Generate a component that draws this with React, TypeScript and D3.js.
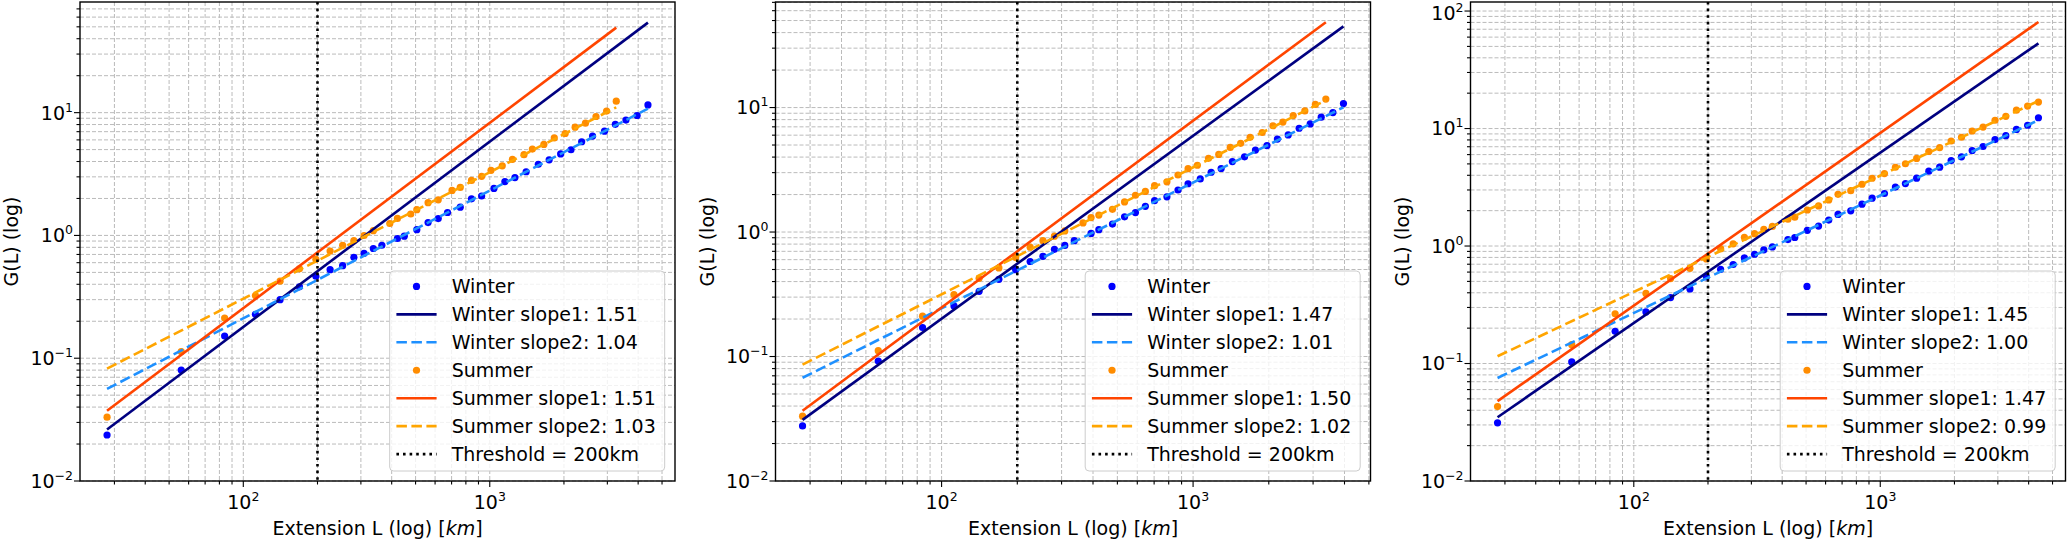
import React from 'react';
import * as d3 from 'd3';

const FONT = '"DejaVu Sans", Verdana, sans-serif';
const FS = 19;
const TOP = 2;
const BOTTOM = 481;
const PW = 595;
const PANEL_LEFT = [80, 775.5, 1470.5];

// extension L [km] of the bins
const extWinterA = [28, 56, 84, 112, 141, 169, 197, 225, 253, 281, 309, 337, 365, 422, 450, 506, 562, 618, 674, 759, 843, 927, 1040, 1152, 1265, 1405, 1574, 1742, 1939, 2136, 2360, 2613, 2922, 3232, 3569, 3962, 4384];
const extSummerA = [28, 56, 84, 112, 141, 169, 197, 225, 253, 281, 309, 337, 393, 422, 478, 506, 562, 618, 703, 759, 843, 927, 1012, 1124, 1236, 1377, 1489, 1658, 1827, 2023, 2220, 2445, 2698, 2979, 3260];
const extWinterB = [28, 56, 84, 112, 141, 169, 197, 225, 253, 281, 309, 337, 393, 422, 478, 534, 590, 646, 703, 787, 871, 955, 1068, 1180, 1293, 1433, 1602, 1770, 1967, 2164, 2389, 2641, 2922, 3232, 3597, 3962];
const extSummerB = [28, 56, 84, 112, 141, 169, 197, 225, 253, 281, 309, 365, 393, 422, 478, 534, 590, 646, 703, 787, 871, 955, 1040, 1152, 1265, 1405, 1546, 1686, 1883, 2079, 2276, 2501, 2782, 3063, 3372];

// G(L) values, one list per panel and season
const gWinterA = [0.0237, 0.0800, 0.1514, 0.2279, 0.2999, 0.3817, 0.4651, 0.526, 0.5675, 0.6637, 0.716, 0.783, 0.832, 0.944, 0.986, 1.115, 1.273, 1.373, 1.538, 1.699, 1.986, 2.094, 2.413, 2.748, 2.958, 3.301, 3.800, 4.128, 4.613, 4.986, 5.794, 6.441, 7.069, 8.032, 8.701, 9.480, 11.55];
const gSummerA = [0.0331, 0.1133, 0.2126, 0.3237, 0.4241, 0.5346, 0.6384, 0.7454, 0.831, 0.906, 0.999, 1.093, 1.251, 1.375, 1.494, 1.622, 1.849, 1.948, 2.327, 2.462, 2.808, 3.027, 3.388, 3.691, 4.167, 4.549, 5.047, 5.508, 6.226, 6.761, 7.612, 8.214, 9.304, 10.30, 12.40];
const gWinterB = [0.0277, 0.0920, 0.171, 0.255, 0.3337, 0.4173, 0.4982, 0.5797, 0.6377, 0.7261, 0.781, 0.853, 0.974, 1.044, 1.158, 1.326, 1.434, 1.608, 1.790, 1.918, 2.175, 2.442, 2.671, 3.023, 3.238, 3.679, 4.022, 4.553, 4.950, 5.578, 6.022, 6.821, 7.382, 8.362, 9.106, 10.76];
const gSummerB = [0.0332, 0.1115, 0.2110, 0.3150, 0.4250, 0.5150, 0.6240, 0.7555, 0.852, 0.927, 1.021, 1.184, 1.306, 1.369, 1.521, 1.744, 1.975, 2.118, 2.359, 2.530, 2.872, 3.229, 3.440, 3.908, 4.200, 4.786, 5.155, 5.765, 6.305, 7.139, 7.649, 8.617, 9.387, 10.60, 11.70];
const gWinterC = [0.0313, 0.1032, 0.1880, 0.2748, 0.3640, 0.4315, 0.5465, 0.6333, 0.6963, 0.7916, 0.851, 0.9286, 0.983, 1.134, 1.182, 1.361, 1.478, 1.663, 1.857, 1.995, 2.269, 2.554, 2.798, 3.172, 3.402, 3.780, 4.334, 4.688, 5.339, 5.746, 6.501, 7.033, 8.047, 8.695, 9.827, 10.66, 12.35];
const gSummerC = [0.043, 0.1446, 0.2652, 0.3951, 0.5279, 0.6465, 0.7754, 0.950, 1.043, 1.185, 1.273, 1.387, 1.467, 1.691, 1.761, 2.025, 2.196, 2.470, 2.754, 2.957, 3.357, 3.776, 4.133, 4.682, 5.016, 5.568, 6.375, 6.889, 7.836, 8.427, 9.524, 10.29, 11.76, 12.70, 14.34, 15.54, 16.79];

// power-law fits: slope and log10 G at L = 1 km, per panel
const winterSlope1 = [1.51, 1.47, 1.45];
const winterSlope2 = [1.04, 1.01, 1.00];
const summerSlope1 = [1.51, 1.50, 1.47];
const summerSlope2 = [1.03, 1.02, 0.99];
const winterIcpt1 = [-3.766, -3.6366, -3.5556];
const winterIcpt2 = [-2.755, -2.6322, -2.5701];
const summerIcpt1 = [-3.6125, -3.6061, -3.4471];
const summerIcpt2 = [-2.5752, -2.5407, -2.3705];
const threshold = 200;

const panelData = [
  { wx: extWinterA, wg: gWinterA, sx: extSummerA, sg: gSummerA },
  { wx: extWinterB, wg: gWinterB, sx: extSummerB, sg: gSummerB },
  { wx: extWinterA, wg: gWinterC, sx: extWinterA, sg: gSummerC },
];

const isMajor = (t: number) => Math.abs(Math.log10(t) - Math.round(Math.log10(t))) < 1e-6;

const Pow10 = ({ e, ...rest }: any) => (
  <text fontFamily={FONT} fontSize={FS} fill="#000" {...rest}>
    <tspan>10</tspan>
    <tspan dy={-8} fontSize={12.5}>{e < 0 ? `\u2212${-e}` : `${e}`}</tspan>
  </text>
);

const Panel: React.FC<{ i: number }> = ({ i }) => {
  const left = PANEL_LEFT[i];
  const right = left + PW;
  const { wx, wg, sx, sg } = panelData[i];

  const fits = [
    { s: winterSlope1[i], b: winterIcpt1[i], L: wx, color: '#000080', dash: undefined, label: `Winter slope1: ${winterSlope1[i].toFixed(2)}` },
    { s: winterSlope2[i], b: winterIcpt2[i], L: wx, color: '#1e90ff', dash: '10.5,4.5', label: `Winter slope2: ${winterSlope2[i].toFixed(2)}` },
    { s: summerSlope1[i], b: summerIcpt1[i], L: sx, color: '#ff4500', dash: undefined, label: `Summer slope1: ${summerSlope1[i].toFixed(2)}` },
    { s: summerSlope2[i], b: summerIcpt2[i], L: sx, color: '#ffa500', dash: '10.5,4.5', label: `Summer slope2: ${summerSlope2[i].toFixed(2)}` },
  ];
  const fitG = (f: any, L: number) => Math.pow(10, f.b + f.s * Math.log10(L));
  const ends = (f: any) => [f.L[0], f.L[f.L.length - 1]];

  // matplotlib-like 5% margins in log space
  const allL = wx.concat(sx);
  const l0 = Math.log10(d3.min(allL)!), l1 = Math.log10(d3.max(allL)!);
  const mx = 0.05 * (l1 - l0);
  const x = d3.scaleLog().domain([10 ** (l0 - mx), 10 ** (l1 + mx)]).range([left, right]);

  const allG = [...wg, ...sg, ...fits.flatMap(f => ends(f).map(L => fitG(f, L)))];
  const g0 = Math.log10(d3.min(allG)!), g1 = Math.log10(d3.max(allG)!);
  const y = d3.scaleLog().domain([0.01, 10 ** (g1 + 0.05 * (g1 - g0))]).range([BOTTOM, TOP]);

  const xt = x.ticks().filter(t => t >= x.domain()[0] && t <= x.domain()[1]);
  const yt = y.ticks().filter(t => t >= y.domain()[0] * 0.999 && t <= y.domain()[1]);

  const line = d3.line<number>().x(L => x(L));

  const legendW = 275;
  const bx = right - 10.3 - legendW;
  const by = 271;
  const rowY = (r: number) => 286.4 + r * 27.95;
  const hx0 = bx + 6.7, hx1 = bx + 46.9, hxm = bx + 26.8, tx = bx + 62;

  const legendRows = [
    { kind: 'dot', color: '#0000ff', label: 'Winter' },
    { kind: 'line', color: fits[0].color, dash: fits[0].dash, label: fits[0].label },
    { kind: 'line', color: fits[1].color, dash: fits[1].dash, label: fits[1].label },
    { kind: 'dot', color: '#ff8c00', label: 'Summer' },
    { kind: 'line', color: fits[2].color, dash: fits[2].dash, label: fits[2].label },
    { kind: 'line', color: fits[3].color, dash: fits[3].dash, label: fits[3].label },
    { kind: 'thr', color: '#000', label: `Threshold = ${threshold}km` },
  ];

  return (
    <g>
      <rect x={left} y={TOP} width={PW} height={BOTTOM - TOP} fill="#fff" />
      {/* grid, major and minor */}
      <g stroke="#b0b0b0" strokeWidth={1} strokeDasharray="4,2" opacity={0.85}>
        {xt.map((t, k) => <line key={`gx${k}`} x1={x(t)} x2={x(t)} y1={TOP} y2={BOTTOM} />)}
        {yt.map((t, k) => <line key={`gy${k}`} x1={left} x2={right} y1={y(t)} y2={y(t)} />)}
      </g>

      {/* points */}
      {wx.map((L, k) => <circle key={`w${k}`} cx={x(L)} cy={y(wg[k])} r={3.6} fill="#0000ff" />)}
      {sx.map((L, k) => <circle key={`s${k}`} cx={x(L)} cy={y(sg[k])} r={3.6} fill="#ff8c00" />)}

      {/* fits */}
      {fits.map((f, k) => (
        <path key={`f${k}`} d={line.y(L => y(fitG(f, L)))(ends(f)) || ''}
          fill="none" stroke={f.color} strokeWidth={2.6} strokeDasharray={f.dash} />
      ))}

      {/* threshold */}
      <line x1={x(threshold)} x2={x(threshold)} y1={TOP} y2={BOTTOM}
        stroke="#000" strokeWidth={2.6} strokeDasharray="2.6,4" />

      {/* spines */}
      <rect x={left} y={TOP} width={PW} height={BOTTOM - TOP} fill="none" stroke="#000" strokeWidth={1.4} />

      {/* ticks */}
      <g stroke="#000" strokeWidth={1.1}>
        {xt.map((t, k) => <line key={`tx${k}`} x1={x(t)} x2={x(t)} y1={BOTTOM} y2={BOTTOM + (isMajor(t) ? 6 : 3.5)} />)}
        {yt.map((t, k) => <line key={`ty${k}`} x1={left} x2={left - (isMajor(t) ? 6 : 3.5)} y1={y(t)} y2={y(t)} />)}
      </g>
      {xt.filter(isMajor).map((t, k) => (
        <Pow10 key={`lx${k}`} e={Math.round(Math.log10(t))} x={x(t)} y={509} textAnchor="middle" />
      ))}
      {yt.filter(isMajor).map((t, k) => (
        <Pow10 key={`ly${k}`} e={Math.round(Math.log10(t))} x={left - 7} y={Math.max(y(t) + 6.9, 20)} textAnchor="end" />
      ))}

      {/* axis labels */}
      <text x={(left + right) / 2} y={535} textAnchor="middle" fontFamily={FONT} fontSize={FS}>
        Extension L (log) [<tspan fontStyle="italic">km</tspan>]
      </text>
      <text transform={`translate(${left - 62},${(TOP + BOTTOM) / 2}) rotate(-90)`} textAnchor="middle"
        fontFamily={FONT} fontSize={FS}>G(L) (log)</text>

      {/* legend */}
      <rect x={bx} y={by} width={legendW} height={200} rx={4} fill="#fff" fillOpacity={0.8}
        stroke="#cccccc" strokeWidth={1} />
      {legendRows.map((r, k) => (
        <g key={`lg${k}`}>
          {r.kind === 'dot' && <circle cx={hxm} cy={rowY(k)} r={3.6} fill={r.color} />}
          {r.kind === 'line' && <line x1={hx0} x2={hx1} y1={rowY(k)} y2={rowY(k)} stroke={r.color}
            strokeWidth={2.6} strokeDasharray={(r as any).dash} />}
          {r.kind === 'thr' && <line x1={hx0} x2={hx1} y1={rowY(k)} y2={rowY(k)} stroke="#000"
            strokeWidth={2.6} strokeDasharray="2.6,4" />}
          <text x={tx} y={rowY(k) + 6.5} fontFamily={FONT} fontSize={FS}>{r.label}</text>
        </g>
      ))}
    </g>
  );
};

export default function App() {
  return (
    <svg width={2067} height={541} style={{ position: 'absolute', left: 0, top: 0, background: '#fff' }}>
      <rect width={2067} height={541} fill="#fff" />
      {[0, 1, 2].map(i => <Panel key={i} i={i} />)}
    </svg>
  );
}
